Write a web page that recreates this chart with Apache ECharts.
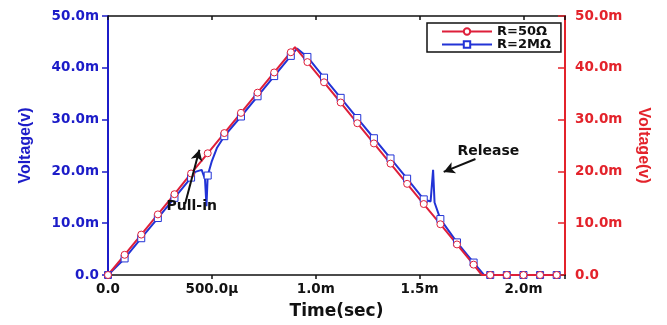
<!DOCTYPE html>
<html>
<head>
<meta charset="utf-8">
<script src="https://cdn.jsdelivr.net/npm/echarts@6/dist/echarts.min.js"></script>
<style>
  html, body { margin: 0; padding: 0; background: #fff; }
  #chart { width: 667px; height: 325px; }
</style>
</head>
<body>
<div id="chart"></div>
<script>
// time in ms, voltage in mV
const redTime = [0, 0.08, 0.16, 0.24, 0.32, 0.40, 0.48, 0.56, 0.64, 0.72, 0.80, 0.88, 0.90, 0.96, 1.04, 1.12, 1.20, 1.28, 1.36, 1.44, 1.52, 1.60, 1.68, 1.76, 1.80, 1.84, 1.92, 2.00, 2.08, 2.16];
const redVolt = [0, 3.9, 7.8, 11.7, 15.6, 19.6, 23.5, 27.4, 31.3, 35.2, 39.1, 43.0, 44.0, 41.1, 37.2, 33.3, 29.3, 25.4, 21.5, 17.6, 13.7, 9.8, 5.9, 2.0, 0, 0, 0, 0, 0, 0];

const blueTime = [0, 0.08, 0.16, 0.24, 0.32, 0.40, 0.42, 0.451, 0.467, 0.474, 0.48, 0.50, 0.524, 0.56, 0.64, 0.72, 0.80, 0.88, 0.91, 0.96, 1.04, 1.12, 1.20, 1.28, 1.36, 1.44, 1.52, 1.553, 1.565, 1.572, 1.60, 1.68, 1.76, 1.81, 1.84, 1.92, 2.00, 2.08, 2.16];
const blueVolt = [0, 3.2, 7.1, 11.0, 14.9, 18.8, 19.9, 20.3, 18.5, 13.3, 19.2, 22.0, 24.5, 26.8, 30.6, 34.5, 38.4, 42.3, 43.7, 42.1, 38.1, 34.2, 30.3, 26.4, 22.5, 18.6, 14.6, 14.2, 20.3, 14.0, 10.8, 6.3, 2.4, 0, 0, 0, 0, 0, 0];

const xTickLabels = ['0.0', '500.0\u03bc', '1.0m', '1.5m', '2.0m'];
const yTickLabels = ['0.0', '10.0m', '20.0m', '30.0m', '40.0m', '50.0m'];

// annotations: arrow tail -> tip, label position
const pullInArrow = [[0.371, 13.7], [0.44, 24.2]];
const pullInText = [0.403, 13.3];
const releaseArrow = [[1.769, 22.4], [1.616, 19.9]];
const releaseText = [1.831, 23.9];

const MARK_STEP = 0.08;
const RED = '#de1f3a';
const BLUE = '#2233d6';
const AXIS_BLUE = '#1c1cc8';
const AXIS_RED = '#e3232b';

function build(times, volts) {
  return times.map((t, i) => {
    const k = t / MARK_STEP;
    const marked = Math.abs(k - Math.round(k)) < 1e-6;
    return marked ? [t, volts[i]] : { value: [t, volts[i]], symbol: 'none' };
  });
}

function xLabel(v) {
  const k = v / 0.5;
  if (Math.abs(k - Math.round(k)) > 1e-6) return '';
  return xTickLabels[Math.round(k)] || '';
}
function yLabel(v) {
  return yTickLabels[Math.round(v / 10)] || '';
}

const chart = echarts.init(document.getElementById('chart'));

const tickFont = { fontFamily: 'DejaVu Sans', fontWeight: 'bold', fontSize: 13.5 };

const option = {
  animation: false,
  grid: { left: 108, right: 102, top: 16, bottom: 49 },
  legend: {
    data: ['R=50\u03a9', 'R=2M\u03a9'],
    orient: 'vertical',
    left: 427,
    top: 23,
    borderColor: '#111',
    borderWidth: 1.5,
    borderRadius: 0,
    padding: [2, 10, 1, 14],
    itemGap: 0,
    itemWidth: 50,
    itemHeight: 8,
    textStyle: { fontFamily: 'DejaVu Sans', fontWeight: 'bold', fontSize: 13, lineHeight: 12, color: '#111' }
  },
  xAxis: [
    {
      type: 'value', min: 0, max: 2.2, interval: 0.5,
      name: 'Time(sec)', nameLocation: 'middle', nameGap: 28,
      nameTextStyle: { fontFamily: 'DejaVu Sans', fontWeight: 'bold', fontSize: 17, color: '#111' },
      axisLine: { onZero: false, lineStyle: { color: '#111', width: 1.5 } },
      axisTick: { length: 4, lineStyle: { color: '#111', width: 1.5 } },
      axisLabel: Object.assign({ color: '#111', margin: 7, formatter: xLabel }, tickFont),
      splitLine: { show: false }
    },
    {
      type: 'value', min: 0, max: 2.2, interval: 0.5, position: 'top',
      axisLine: { onZero: false, lineStyle: { color: '#111', width: 1.5 } },
      axisTick: { inside: true, length: 4, lineStyle: { color: '#111', width: 1.5 } },
      axisLabel: { show: false },
      splitLine: { show: false }
    }
  ],
  yAxis: [
    {
      type: 'value', min: 0, max: 50, interval: 10, position: 'left',
      name: 'Voltage(v)', nameLocation: 'middle', nameGap: 74,
      nameTextStyle: { fontFamily: 'Liberation Sans', fontWeight: 'bold', fontSize: 16, color: AXIS_BLUE },
      axisLine: { show: true, onZero: false, lineStyle: { color: AXIS_BLUE, width: 2 } },
      axisTick: { show: true, length: 6, lineStyle: { color: AXIS_BLUE, width: 1.5 } },
      axisLabel: Object.assign({ color: AXIS_BLUE, margin: 9, formatter: yLabel }, tickFont),
      splitLine: { show: false }
    },
    {
      type: 'value', min: 0, max: 50, interval: 10, position: 'right',
      name: 'Voltage(v)', nameLocation: 'middle', nameGap: 70, nameRotate: -90,
      nameTextStyle: { fontFamily: 'Liberation Sans', fontWeight: 'bold', fontSize: 16, color: AXIS_RED },
      axisLine: { show: true, onZero: false, lineStyle: { color: AXIS_RED, width: 2 } },
      axisTick: { show: true, inside: true, length: 7, lineStyle: { color: AXIS_RED, width: 1.5 } },
      axisLabel: Object.assign({ color: AXIS_RED, margin: 10, formatter: yLabel }, tickFont),
      splitLine: { show: false }
    }
  ],
  series: [
    {
      name: 'R=2M\u03a9',
      type: 'line',
      data: build(blueTime, blueVolt),
      showAllSymbol: true,
      symbol: 'rect',
      symbolSize: 7,
      lineStyle: { color: BLUE, width: 2 },
      itemStyle: { color: '#fff', borderColor: BLUE, borderWidth: 1 },
      markLine: {
        silent: true,
        symbol: ['none', 'arrow'],
        symbolSize: [9, 11],
        lineStyle: { color: '#111', width: 2, type: 'solid' },
        label: { show: false },
        data: [
          [{ coord: pullInArrow[0] }, { coord: pullInArrow[1] }],
          [{ coord: releaseArrow[0] }, { coord: releaseArrow[1] }]
        ]
      },
      markPoint: {
        silent: true,
        symbol: 'circle',
        symbolSize: 1,
        itemStyle: { color: 'rgba(0,0,0,0)' },
        label: {
          show: true, position: 'inside', formatter: '{b}',
          fontFamily: 'DejaVu Sans', fontWeight: 'bold', fontSize: 14, color: '#111'
        },
        data: [
          { name: 'Pull-in', coord: pullInText },
          { name: 'Release', coord: releaseText }
        ]
      }
    },
    {
      name: 'R=50\u03a9',
      type: 'line',
      data: build(redTime, redVolt),
      showAllSymbol: true,
      symbol: 'circle',
      symbolSize: 7,
      lineStyle: { color: RED, width: 2 },
      itemStyle: { color: '#fff', borderColor: RED, borderWidth: 1 }
    }
  ]
};

chart.setOption(option);
</script>
</body>
</html>
